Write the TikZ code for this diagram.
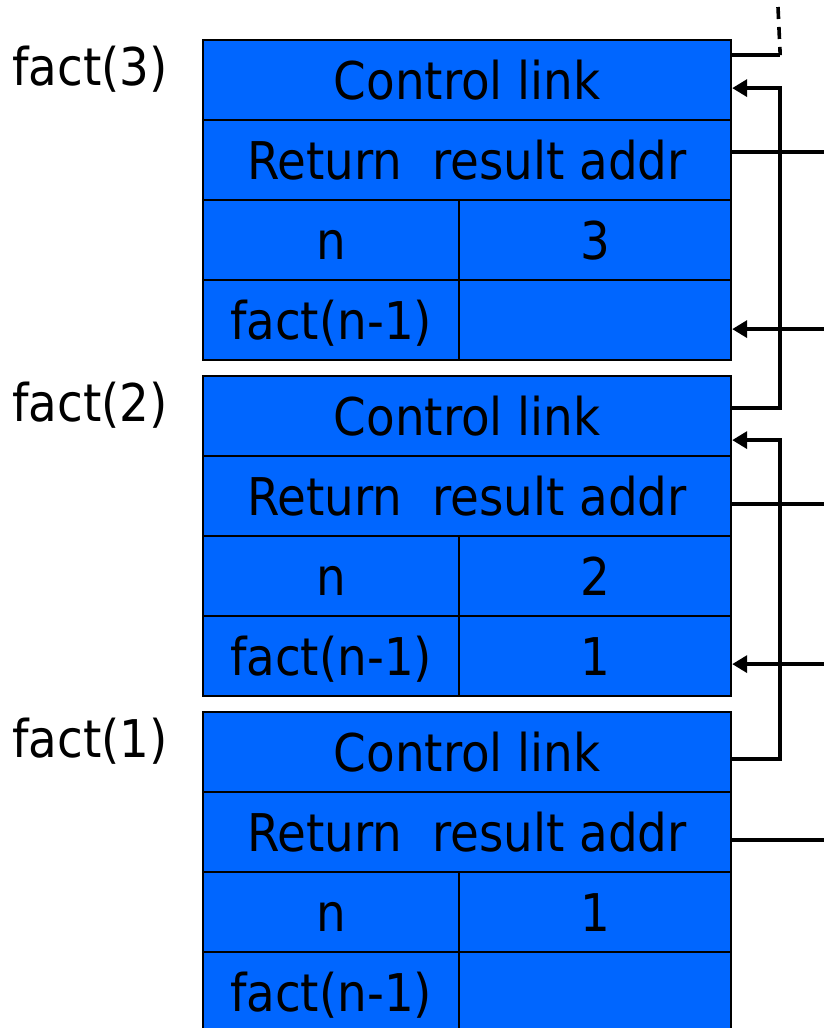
\documentclass[tikz,border=0pt]{standalone}
\usepackage{fontspec}
\setmainfont{DejaVu Sans Condensed}
\usetikzlibrary{arrows.meta}
\definecolor{frameblue}{RGB}{0,102,255}

\begin{document}
\begin{tikzpicture}[x=1pt,y=-1pt,
  every node/.style={font=\fontsize{52}{60}\selectfont, text height=38pt, text depth=0pt, inner sep=0pt},
  cell/.style={draw, line width=2.2pt, fill=frameblue, minimum height=80pt, anchor=north west},
  wide/.style={cell, minimum width=528pt},
  keycell/.style={cell, minimum width=256pt},
  valcell/.style={cell, minimum width=272pt},
  link/.style={line width=3.6pt},
  tip/.style={-{Triangle[length=15pt,width=17pt]}},
  intip/.style={{Triangle[length=15pt,width=17pt]}-}]

\useasboundingbox (0,0) rectangle (823,1028);

% frames
\foreach \i/\ytop/\val/\res in {3/39/3/{}, 2/375/2/1, 1/711/1/{}} {
  \node[wide] (cl\i) at (202,\ytop) {Control link};
  \node[wide] (ra\i) at (202,\ytop+80) {Return\ \ result addr};
  \node[keycell] (n\i) at (202,\ytop+160) {n};
  \node[valcell] (nv\i) at (458,\ytop+160) {\val};
  \node[keycell] (fn\i) at (202,\ytop+240) {fact(n-1)};
  \node[valcell] (fv\i) at (458,\ytop+240) {\res};
  \node (lab\i) at (90,\ytop+27) {fact(\i)};
}

% control links
\coordinate (caller) at (778,7);
\draw[link] ([yshift=25pt]cl3.east) -- ++(48,0) coordinate (up);
\draw[link, dash pattern=on 12pt off 8pt] (caller) -- (up);
\draw[link,tip] ([yshift=8pt]cl2.east) -- ++(48,0) |- ([yshift=-8pt]cl3.east);
\draw[link,tip] ([yshift=-7pt]cl1.east) -- ++(48,0) |- ([yshift=-24pt]cl2.east);

% result addresses
\foreach \i/\dy in {3/8, 2/-8, 1/-8}
  \draw[link] ([yshift=\dy pt]ra\i.east) -- ++(93,0);
\foreach \i/\dy in {3/-9, 2/-8}
  \draw[link,intip] ([yshift=\dy pt]fv\i.east) -- ++(93,0);

\end{tikzpicture}
\end{document}
